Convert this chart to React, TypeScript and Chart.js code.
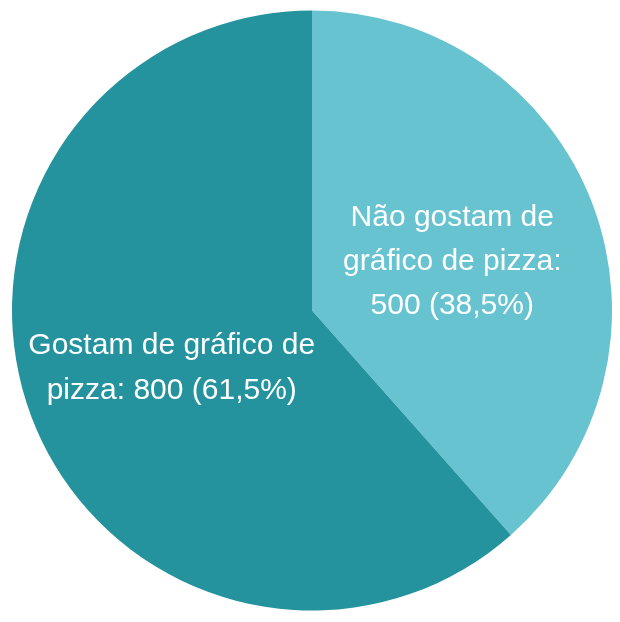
import React, { useEffect, useRef } from "react";
import { Chart, registerables } from "chart.js";

Chart.register(...registerables);

const categories = ["Não gostam de gráfico de pizza", "Gostam de gráfico de pizza"];
const values = [500, 800];
const labelLines = [
  ["Não gostam de", "gráfico de pizza:", "500 (38,5%)"],
  ["Gostam de gráfico de", "pizza: 800 (61,5%)"],
];
const colors = ["#67C3D0", "#25939E"];
const lineHeights = [44, 45];

const labelPlugin = {
  id: "sliceLabels",
  afterDatasetsDraw(chart: any) {
    const ctx = chart.ctx;
    const meta = chart.getDatasetMeta(0);
    ctx.save();
    ctx.fillStyle = "#ffffff";
    ctx.font = "30px 'Liberation Sans', Arial, sans-serif";
    ctx.textAlign = "center";
    ctx.textBaseline = "alphabetic";
    meta.data.forEach((arc: any, i: number) => {
      const lh = lineHeights[i];
      const mid = (arc.startAngle + arc.endAngle) / 2;
      const r = arc.outerRadius * 0.5;
      const cx = arc.x + Math.cos(mid) * r;
      const cy = arc.y + Math.sin(mid) * r;
      const lines = labelLines[i];
      const start = cy - ((lines.length - 1) * lh) / 2 + 13;
      lines.forEach((t, j) => ctx.fillText(t, cx, start + j * lh));
    });
    ctx.restore();
  },
};

export default function App() {
  const ref = useRef<HTMLCanvasElement>(null);
  useEffect(() => {
    const chart = new Chart(ref.current!, {
      type: "pie",
      data: {
        labels: categories,
        datasets: [{ data: values, backgroundColor: colors, borderWidth: 0 }],
      },
      options: {
        animation: false,
        responsive: false,
        layout: { padding: { left: 12, right: 8, top: 10, bottom: 11 } },
        plugins: { legend: { display: false }, tooltip: { enabled: false } },
      },
      plugins: [labelPlugin],
    });
    return () => chart.destroy();
  }, []);
  return (
    <div style={{ position: "fixed", left: 0, top: 0, width: 620, height: 622, background: "#fff" }}>
      <canvas ref={ref} width={620} height={622} style={{ width: 620, height: 622 }} />
    </div>
  );
}
